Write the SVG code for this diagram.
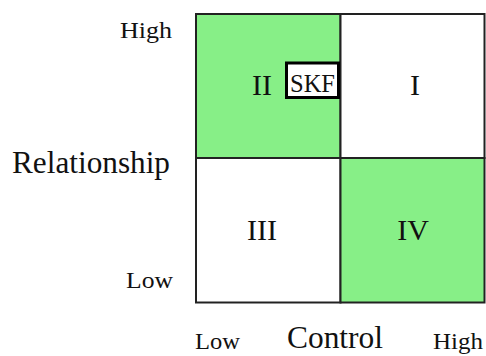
<svg xmlns="http://www.w3.org/2000/svg" width="486" height="356" viewBox="0 0 486 356">
<style>
text{font-family:"Liberation Serif","Times New Roman",serif;fill:#111}
.q{font-size:30px;text-anchor:middle}
.ax{font-size:23px}
.big{font-size:31px}
.cell{stroke:#222;stroke-width:2}
.g{fill:#87ef87}
.w{fill:#ffffff}
</style>
<rect width="486" height="356" fill="#fff"/>
<g id="quadrant-II"><rect class="cell g" x="196" y="14" width="144.5" height="144"/><text class="q" x="262" y="95">II</text></g>
<g id="quadrant-I"><rect class="cell w" x="340.5" y="14" width="144" height="144"/><text class="q" x="415" y="95">I</text></g>
<g id="quadrant-III"><rect class="cell w" x="196" y="158" width="144.5" height="144.5"/><text class="q" x="262" y="240">III</text></g>
<g id="quadrant-IV"><rect class="cell g" x="340.5" y="158" width="144" height="144.5"/><text class="q" x="413" y="240">IV</text></g>
<g id="skf"><rect x="286.5" y="63" width="52" height="34.5" fill="#fff" stroke="#000" stroke-width="3"/><text x="312.5" y="92" font-size="26" text-anchor="middle" textLength="45" lengthAdjust="spacingAndGlyphs">SKF</text></g>
<g id="axis-labels">
<text class="ax" x="172" y="38" text-anchor="end" textLength="52" lengthAdjust="spacingAndGlyphs">High</text>
<text class="ax" x="173" y="288" text-anchor="end" textLength="47" lengthAdjust="spacingAndGlyphs">Low</text>
<text class="big" x="12" y="173" textLength="158" lengthAdjust="spacingAndGlyphs">Relationship</text>
<text class="ax" x="195" y="349" textLength="45" lengthAdjust="spacingAndGlyphs">Low</text>
<text class="big" x="287" y="348" textLength="96" lengthAdjust="spacingAndGlyphs">Control</text>
<text class="ax" x="433" y="349" textLength="50" lengthAdjust="spacingAndGlyphs">High</text>
</g>
<g id="connectors"></g>
</svg>
